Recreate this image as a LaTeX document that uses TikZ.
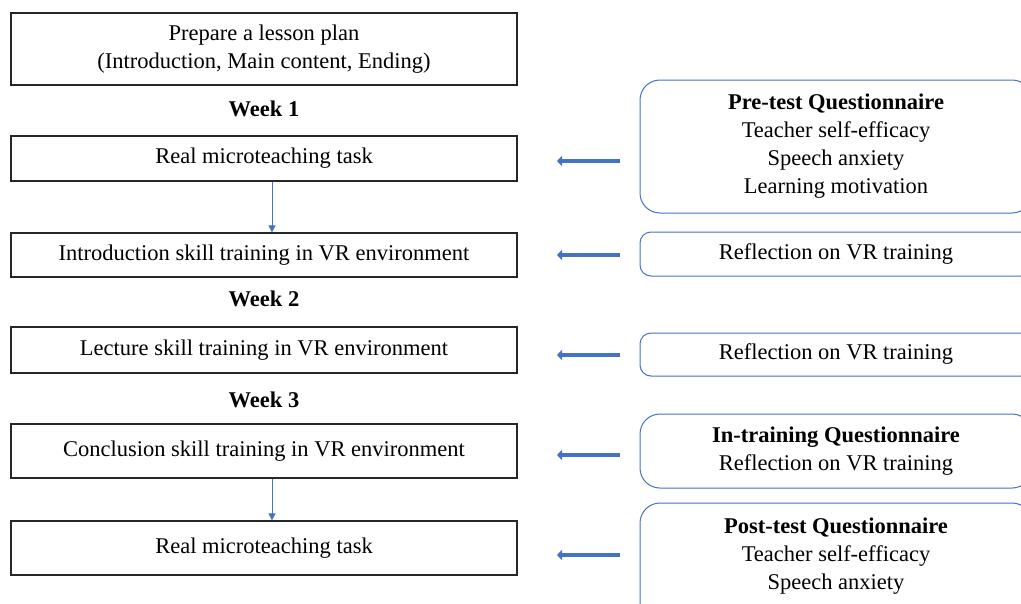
\documentclass[tikz,border=0pt]{standalone}
\usepackage{fontspec}
\setmainfont{Liberation Serif}
\usetikzlibrary{arrows.meta}
\definecolor{accent}{HTML}{4472C4}
\begin{document}
\begin{tikzpicture}[x=1pt,y=-1pt,
  every node/.style={font=\fontsize{22.5}{28}\selectfont, inner sep=0pt, align=center},
  stepbox/.style={draw=black!85, line width=1.3pt, minimum width=506pt},
  qbox/.style={draw=accent, line width=1pt, minimum width=392pt},
  wk/.style={font=\fontsize{22.5}{28}\selectfont\bfseries},
  flow/.style={draw=accent, line width=1pt, -{Triangle[length=7pt,width=7pt]}},
  fb/.style={draw=accent, line width=4pt, -{Triangle[length=5pt,width=10pt]}}]
\clip (0,0) rectangle (1021,603);
\fill[white] (0,0) rectangle (1021,603);
% left column
\node[stepbox, minimum height=72pt] (plan) at (264,49) {Prepare a lesson plan\\(Introduction, Main content, Ending)};
\node[wk] (w1) at (264,109) {Week 1};
\node[stepbox, minimum height=45pt] (real1) at (264,158.5) {Real microteaching task};
\node[stepbox, minimum height=44pt] (intro) at (264,255) {Introduction skill training in VR environment};
\node[wk] (w2) at (264,299) {Week 2};
\node[stepbox, minimum height=46pt] (lect) at (264,350) {Lecture skill training in VR environment};
\node[wk] (w3) at (264,400) {Week 3};
\node[stepbox, minimum height=54pt] (concl) at (264,451) {Conclusion skill training in VR environment};
\node[stepbox, minimum height=54pt] (real2) at (264,548) {Real microteaching task};
\draw[flow] (real1.south -| 272,0) -- (intro.north -| 272,0);
\draw[flow] (concl.south -| 272,0) -- (real2.north -| 272,0);
% right column
\node[qbox, rounded corners=20pt, minimum height=133pt] (pre) at (836,146.5) {\textbf{Pre-test Questionnaire}\\Teacher self-efficacy\\Speech anxiety\\Learning motivation};
\node[qbox, rounded corners=11pt, minimum height=44pt] (ref1) at (836,254) {Reflection on VR training};
\node[qbox, rounded corners=11pt, minimum height=43pt] (ref2) at (836,354.5) {Reflection on VR training};
\node[qbox, rounded corners=20pt, minimum height=74pt] (mid) at (836,451) {\textbf{In-training Questionnaire}\\Reflection on VR training};
\node[qbox, rounded corners=20pt, minimum height=124pt] (post) at (836,565) {};
\node (posttxt) at (836,556) {\textbf{Post-test Questionnaire}\\Teacher self-efficacy\\Speech anxiety};
% feedback arrows
\foreach \n/\y in {a/161,b/255,c/355,d/455,e/555}{
  \coordinate (s\n) at (620,\y);
  \coordinate (t\n) at (557,\y);
}
\draw[fb] (sa) -- (ta);
\draw[fb] (sb) -- (tb);
\draw[fb] (sc) -- (tc);
\draw[fb] (sd) -- (td);
\draw[fb] (se) -- (te);
\end{tikzpicture}
\end{document}
